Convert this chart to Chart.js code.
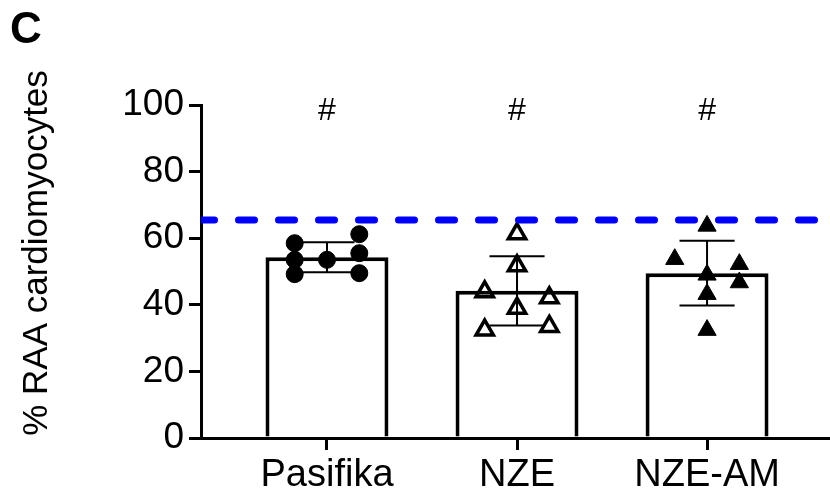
<!DOCTYPE html>
<html>
<head>
<meta charset="utf-8">
<script src="https://cdn.jsdelivr.net/npm/chart.js@4.4.1/dist/chart.umd.min.js"></script>
<style>
  html, body { margin: 0; padding: 0; background: #fff; overflow: hidden; }
  canvas { display: block; }
</style>
</head>
<body>
<canvas id="raaChart" width="830" height="493"></canvas>
<script>
// ===== DATA =====
const categories = ["Pasifika", "NZE", "NZE-AM"];
const means = [54.3, 44.2, 49.5];
const sds = [4.5, 10.4, 9.7];
const significance = ["#", "#", "#"];
const referenceLevel = 65.5;
const yTickValues = [0, 20, 40, 60, 80, 100];

// individual points, column -1 / 0 / 1 = left / middle / right of the bar
const pasifikaValues = [58.5, 53.5, 49.2, 53.5, 61.2, 55.5, 49.5];
const pasifikaCols = [-1, -1, -1, 0, 1, 1, 1];
const nzeValues = [43.9, 32.4, 61.3, 51.7, 39.0, 42.1, 33.5];
const nzeCols = [-1, -1, 0, 0, 0, 1, 1];
const nzeAmValues = [53.7, 63.7, 49.0, 43.2, 32.4, 52.2, 46.7];
const nzeAmCols = [-1, 0, 0, 0, 0, 1, 1];

// ===== HELPERS =====
const X_MIN = -0.663, X_MAX = 2.647, SPREAD = 0.17;
const FONT = "'Liberation Sans', Arial, sans-serif";

function toPoints(group, values, cols) {
  return values.map((v, i) => ({ x: group + cols[i] * SPREAD, y: v }));
}

const extras = {
  id: "extras",
  afterDatasetDraw(chart, args) {
    if (args.index !== 0) return;
    // error bars (mean +/- SD)
    const ctx = chart.ctx, xs = chart.scales.x, ys = chart.scales.y;
    const cap = xs.getPixelForValue(0.145) - xs.getPixelForValue(0);
    ctx.save();
    ctx.strokeStyle = "#000";
    ctx.lineWidth = 2;
    means.forEach((m, i) => {
      const x = xs.getPixelForValue(i);
      const top = ys.getPixelForValue(m + sds[i]);
      const bot = ys.getPixelForValue(m - sds[i]);
      ctx.beginPath();
      ctx.moveTo(x, top); ctx.lineTo(x, bot);
      ctx.moveTo(x - cap, top); ctx.lineTo(x + cap, top);
      ctx.moveTo(x - cap, bot); ctx.lineTo(x + cap, bot);
      ctx.stroke();
    });
    ctx.restore();
  },
  afterDraw(chart) {
    const ctx = chart.ctx, xs = chart.scales.x, ys = chart.scales.y;
    ctx.save();
    ctx.fillStyle = "#000";
    ctx.textAlign = "center";
    ctx.textBaseline = "middle";
    ctx.font = "32px " + FONT;
    significance.forEach((s, i) => {
      ctx.fillText(s, xs.getPixelForValue(i), ys.getPixelForValue(98));
    });
    // panel letter
    ctx.font = "bold 44px " + FONT;
    ctx.textAlign = "left";
    ctx.textBaseline = "alphabetic";
    ctx.fillText("C", 10, 43);
    // y axis title
    ctx.translate(37, 253);
    ctx.rotate(-Math.PI / 2);
    ctx.font = "35px " + FONT;
    ctx.textAlign = "center";
    ctx.textBaseline = "middle";
    ctx.fillText("% RAA cardiomyocytes", 0, 0);
    ctx.restore();
  }
};

// ===== CHART SETUP =====
const pointStyleBase = { type: "line", showLine: false, order: 1 };

new Chart(document.getElementById("raaChart"), {
  type: "bar",
  data: {
    datasets: [
      {
        label: "Mean",
        data: means.map((m, i) => ({ x: i, y: m })),
        backgroundColor: "#fff",
        borderColor: "#000",
        borderWidth: 4,
        barPercentage: 0.647,
        categoryPercentage: 1,
        order: 10
      },
      Object.assign({}, pointStyleBase, {
        label: "Pasifika",
        data: toPoints(0, pasifikaValues, pasifikaCols),
        pointStyle: "circle",
        pointRadius: 8.5,
        pointBackgroundColor: "#000",
        pointBorderColor: "#000",
        pointBorderWidth: 1
      }),
      Object.assign({}, pointStyleBase, {
        label: "NZE",
        data: toPoints(1, nzeValues, nzeCols),
        pointStyle: "triangle",
        pointRadius: 10,
        pointBackgroundColor: "rgba(0,0,0,0)",
        pointBorderColor: "#000",
        pointBorderWidth: 3.5
      }),
      Object.assign({}, pointStyleBase, {
        label: "NZE-AM",
        data: toPoints(2, nzeAmValues, nzeAmCols),
        pointStyle: "triangle",
        pointRadius: 10.5,
        pointBackgroundColor: "#000",
        pointBorderColor: "#000",
        pointBorderWidth: 1
      }),
      {
        type: "line",
        label: "Reference",
        data: [{ x: X_MIN, y: referenceLevel }, { x: X_MAX, y: referenceLevel }],
        borderColor: "#0000ff",
        borderWidth: 7,
        borderDash: [16, 24],
        borderDashOffset: 2.5,
        borderCapStyle: "round",
        pointRadius: 0,
        order: 0
      }
    ]
  },
  options: {
    responsive: false,
    animation: false,
    events: [],
    layout: { autoPadding: false, padding: { top: 105, left: 0, right: 0, bottom: 0 } },
    plugins: { legend: { display: false }, tooltip: { enabled: false } },
    scales: {
      x: {
        type: "linear",
        min: X_MIN,
        max: X_MAX,
        offset: false,
        afterBuildTicks: (axis) => { axis.ticks = categories.map((c, i) => ({ value: i })); },
        afterFit: (axis) => {
          axis.height = 55;
          axis.paddingLeft = 0;
          axis.paddingRight = 0;
        },
        ticks: {
          callback: (v) => categories[v],
          color: "#000",
          font: { family: FONT, size: 38 },
          padding: 3,
          maxRotation: 0,
          autoSkip: false
        },
        grid: { offset: false, drawOnChartArea: false, tickLength: 12, lineWidth: 3, color: "#000" },
        border: { display: true, width: 3, color: "#000" }
      },
      y: {
        min: 0,
        max: 100,
        afterBuildTicks: (axis) => { axis.ticks = yTickValues.map((v) => ({ value: v })); },
        afterFit: (axis) => { axis.width = 201; },
        ticks: {
          color: "#000",
          font: { family: FONT, size: 37 },
          padding: 5
        },
        grid: { drawOnChartArea: false, tickLength: 12, lineWidth: 3, color: "#000" },
        border: { display: true, width: 3, color: "#000" }
      }
    }
  },
  plugins: [extras]
});
</script>
</body>
</html>
